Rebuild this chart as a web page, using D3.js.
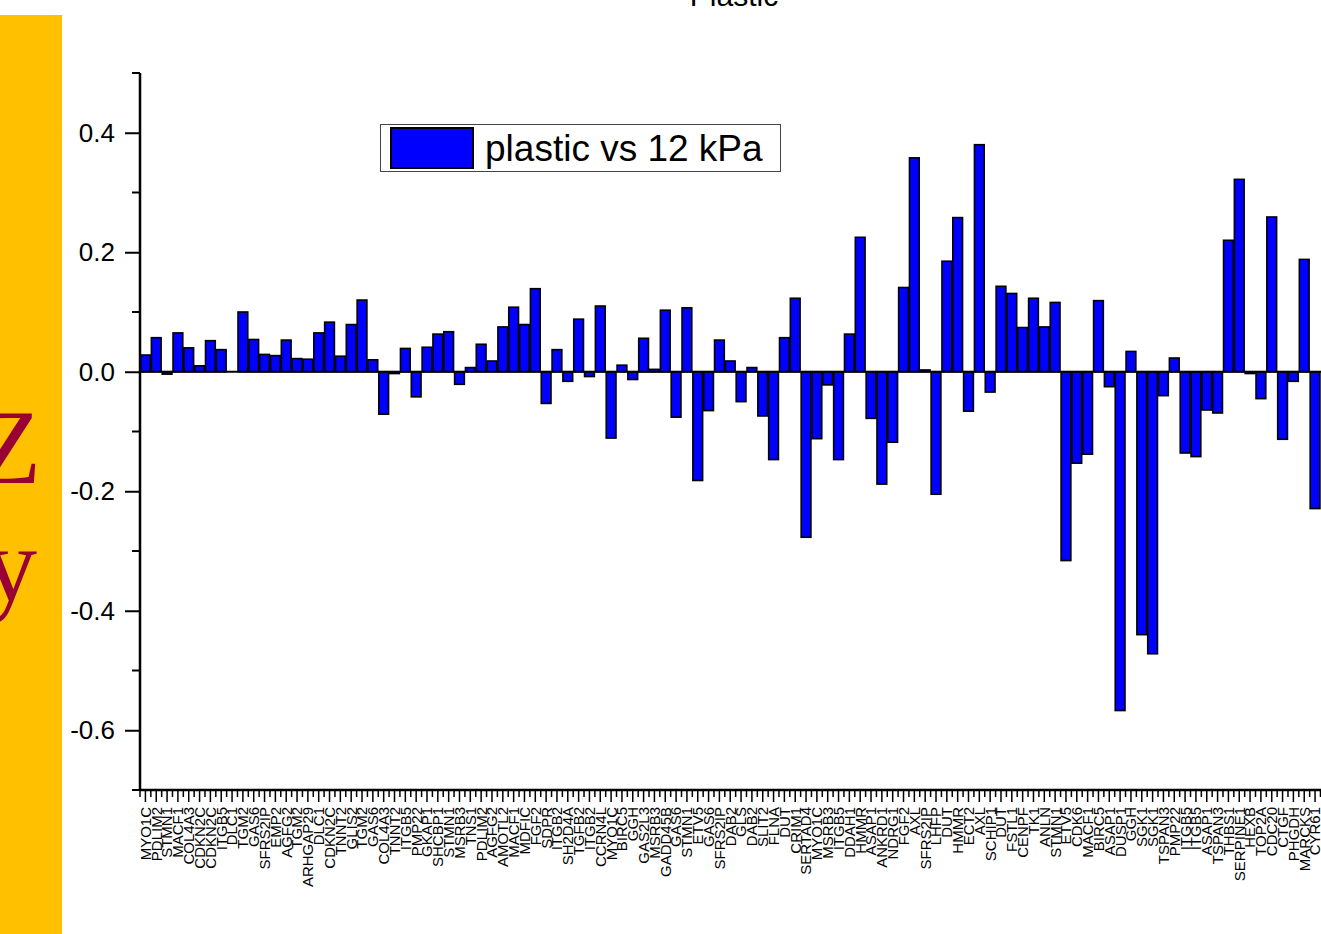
<!DOCTYPE html>
<html>
<head>
<meta charset="utf-8">
<script src="https://cdn.jsdelivr.net/npm/d3@7"></script>
<style>
  body { margin: 0; background: #fff; }
  svg { display: block; }
  text { font-family: Arial, "Liberation Sans", sans-serif; }
</style>
</head>
<body>
<div id="chart"></div>
<script>
// gene labels, left to right
var genes = ["MYO1C","PDLIM2","STMN1","MACF1","COL4A3","CDKN2C","CDKN2C","ITGB5","DLC1","TGM2",
  "GAS6","SFRS2IP","EMP2","AGFG2","TGM2","ARHGAP29","DLC1","CDKN2C","TNNT2","GLIS2",
  "TGM2","GAS6","COL4A3","TNNT2","ITGB5","PMP22","GKAP1","SHCBP1","STMN1","MSRB3",
  "TNS1","PDLIM2","AGFG2","AMOTL2","MACF1","MDFIC","FGF2","SDPR","ITGB2","SH2D4A",
  "TGFB2","ITGB2","CCRN4L","MYO1C","BIRC5","GGH","GAS2L3","MSRB3","GADD45B","GAS6",
  "STMN1","ETV5","GAS6","SFRS2IP","DAB2","GLS","DAB2","SLIT2","FLNA","DUT",
  "CRIM1","SERTAD4","MYO1C","MSRB3","ITGB5","DDAH1","HMMR","ASAP1","ANKRD1","NDRG1",
  "FGF2","AXL","SFRS2IP","LHFP","DUT","HMMR","ECT2","AXL","SCHIP1","DUT",
  "FSTL1","CENPF","TK1","ANLN","STMN1","ETV5","CDK6","MACF1","BIRC5","ASAP1",
  "DUSP1","GGH","SGK1","SGK1","TSPAN3","PMP22","ITGB5","ITGB5","ASAP1","TSPAN3",
  "THBS1","SERPINE1","HEXB","TOP2A","CDC20","CTGF","PHGDH","MARCKS","CYR61"];

// plastic vs 12 kPa
var values = [0.028,0.057,-0.004,0.065,0.040,0.010,0.052,0.037,0.000,0.100,
  0.054,0.029,0.027,0.053,0.022,0.021,0.065,0.083,0.026,0.079,
  0.120,0.020,-0.071,-0.003,0.039,-0.042,0.041,0.063,0.067,-0.021,
  0.007,0.046,0.018,0.075,0.108,0.079,0.139,-0.053,0.037,-0.016,
  0.088,-0.008,0.110,-0.111,0.011,-0.013,0.056,0.004,0.103,-0.076,
  0.107,-0.182,-0.065,0.053,0.018,-0.050,0.007,-0.074,-0.147,0.057,
  0.123,-0.277,-0.112,-0.022,-0.147,0.063,0.225,-0.078,-0.188,-0.118,
  0.141,0.358,0.003,-0.205,0.185,0.258,-0.066,0.380,-0.034,0.143,
  0.131,0.074,0.123,0.075,0.116,-0.316,-0.153,-0.138,0.119,-0.025,
  -0.567,0.034,-0.440,-0.472,-0.040,0.023,-0.136,-0.142,-0.064,-0.069,
  0.220,0.322,-0.003,-0.045,0.259,-0.113,-0.016,0.188,-0.229];

var yMajor = [-0.6,-0.4,-0.2,0.0,0.2,0.4];
var yMinor = [-0.7,-0.5,-0.3,-0.1,0.1,0.3,0.5];
var seriesName = "plastic vs 12 kPa";
var title = "Plastic";

var W = 1321, H = 934;
var plot = {left: 140, top: 73, bottom: 790};
var pitch = 10.83;
plot.right = plot.left + genes.length * pitch;

var svg = d3.select("#chart").append("svg")
  .attr("width", W).attr("height", H);

// slide decoration on the left
svg.append("rect")
  .attr("x", 0).attr("y", 15).attr("width", 62).attr("height", H - 15)
  .attr("fill", "#FFC000");
svg.append("text")
  .attr("x", 41).attr("y", 483)
  .attr("text-anchor", "end")
  .style("font-family", "'Liberation Serif', 'Times New Roman', serif")
  .style("font-size", "106px")
  .attr("fill", "#990033")
  .text("Z");
svg.append("text")
  .attr("x", 37).attr("y", 600)
  .attr("text-anchor", "end")
  .style("font-family", "'Liberation Serif', 'Times New Roman', serif")
  .style("font-size", "106px")
  .attr("fill", "#990033")
  .text("y");

// title, mostly cut off at the top
svg.append("text")
  .attr("x", 734).attr("y", 6)
  .attr("text-anchor", "middle")
  .style("font-size", "30px")
  .text(title);

var xScale = d3.scaleBand()
  .domain(d3.range(genes.length))
  .range([plot.left, plot.right])
  .paddingInner(0.1)
  .paddingOuter(0.05);

var yScale = d3.scaleLinear()
  .domain([-0.7, 0.5])
  .range([plot.bottom, plot.top]);

// bars
svg.append("g").selectAll("rect")
  .data(values)
  .enter()
  .append("rect")
  .attr("x", function (d, i) { return xScale(i); })
  .attr("width", xScale.bandwidth())
  .attr("y", function (d) { return yScale(Math.max(0, d)); })
  .attr("height", function (d) { return Math.abs(yScale(d) - yScale(0)); })
  .attr("fill", "#0000FF")
  .attr("stroke", "#000")
  .attr("stroke-width", 1.6);

// zero line
svg.append("line")
  .attr("x1", plot.left).attr("x2", W)
  .attr("y1", yScale(0)).attr("y2", yScale(0))
  .attr("stroke", "#000").attr("stroke-width", 2);

// y axis
var yAxis = d3.axisLeft(yScale)
  .tickValues(yMajor)
  .tickSize(15)
  .tickPadding(10)
  .tickFormat(function (d) { return d3.format(".1f")(d).replace("\u2212", "-"); });

var yg = svg.append("g")
  .attr("transform", "translate(" + plot.left + ",0)")
  .call(yAxis);
yg.select(".domain").remove();
yg.selectAll(".tick line").attr("stroke-width", 2);
yg.selectAll(".tick text")
  .style("font-size", "26px")
  .style("font-family", "Arial, 'Liberation Sans', sans-serif");

svg.append("g").selectAll("line")
  .data(yMinor)
  .enter()
  .append("line")
  .attr("x1", plot.left - 8).attr("x2", plot.left)
  .attr("y1", function (d) { return yScale(d); })
  .attr("y2", function (d) { return yScale(d); })
  .attr("stroke", "#000").attr("stroke-width", 2);

svg.append("line")
  .attr("x1", plot.left).attr("x2", plot.left)
  .attr("y1", plot.top).attr("y2", plot.bottom)
  .attr("stroke", "#000").attr("stroke-width", 2.5);

// x axis
var xAxis = d3.axisBottom(xScale)
  .tickSize(12)
  .tickPadding(4)
  .tickFormat(function (i) { return genes[i]; });

var xg = svg.append("g")
  .attr("transform", "translate(0," + plot.bottom + ")")
  .call(xAxis);
xg.select(".domain").remove();
xg.selectAll(".tick line").attr("stroke-width", 1.5);
xg.selectAll(".tick text")
  .style("font-size", "15px")
  .style("font-family", "Arial, 'Liberation Sans', sans-serif")
  .attr("text-anchor", "end")
  .attr("transform", "rotate(-90)")
  .attr("x", -17)
  .attr("y", 0)
  .attr("dy", "0.36em");

// minor x ticks at band edges
svg.append("g").selectAll("line")
  .data(d3.range(genes.length + 1))
  .enter()
  .append("line")
  .attr("x1", function (i) { return xScale(0) - xScale.step() * xScale.paddingInner() / 2 + i * xScale.step(); })
  .attr("x2", function (i) { return xScale(0) - xScale.step() * xScale.paddingInner() / 2 + i * xScale.step(); })
  .attr("y1", plot.bottom).attr("y2", plot.bottom + 7)
  .attr("stroke", "#000").attr("stroke-width", 1.5);

svg.append("line")
  .attr("x1", plot.left - 1).attr("x2", W)
  .attr("y1", plot.bottom).attr("y2", plot.bottom)
  .attr("stroke", "#000").attr("stroke-width", 2.5);

// legend
var lg = svg.append("g").attr("class", "legend");
lg.append("rect")
  .attr("x", 380.5).attr("y", 124.5).attr("width", 400).attr("height", 47)
  .attr("fill", "#fff").attr("stroke", "#444").attr("stroke-width", 1);
lg.append("rect")
  .attr("x", 391).attr("y", 128).attr("width", 82).attr("height", 40)
  .attr("fill", "#0000FF").attr("stroke", "#000").attr("stroke-width", 2);
lg.append("text")
  .attr("x", 485).attr("y", 161)
  .style("font-size", "37px")
  .text(seriesName);
</script>
</body>
</html>
